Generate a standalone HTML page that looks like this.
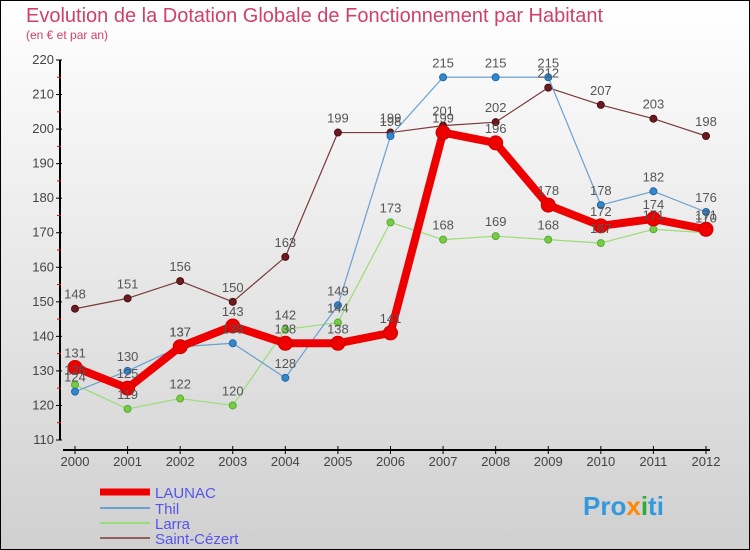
<!DOCTYPE html>
<html><head><meta charset="utf-8"><style>
body{margin:0;}
svg{display:block;font-family:"Liberation Sans",sans-serif;}
</style></head><body>
<svg width="750" height="550" viewBox="0 0 750 550" id="c">
<defs><linearGradient id="bg" x1="0" y1="0" x2="0" y2="1"><stop offset="0" stop-color="#ffffff"/><stop offset="1" stop-color="#d0d0d0"/></linearGradient></defs>
<rect x="0.5" y="0.5" width="749" height="549" fill="url(#bg)" stroke="#000"/>
<text x="26" y="22" font-size="20" fill="#d0406a">Evolution de la Dotation Globale de Fonctionnement par Habitant</text>
<text x="26" y="39" font-size="12" fill="#d0406a">(en € et par an)</text>
<g id="axes"></g><g id="series"></g><g id="labels"></g>
<g>
<line x1="100" y1="492" x2="150" y2="492" stroke="#ee0000" stroke-width="7"/>
<text x="155" y="498" font-size="15" fill="#5555ee">LAUNAC</text>
<line x1="100" y1="508" x2="150" y2="508" stroke="#6aa0d0" stroke-width="2"/>
<text x="155" y="514" font-size="15" fill="#5555ee">Thil</text>
<line x1="100" y1="523" x2="150" y2="523" stroke="#99dd77" stroke-width="2"/>
<text x="155" y="529" font-size="15" fill="#5555ee">Larra</text>
<line x1="100" y1="538" x2="150" y2="538" stroke="#906060" stroke-width="2"/>
<text x="155" y="544" font-size="15" fill="#5555ee">Saint-Cézert</text>
</g>
<text x="583" y="515" font-size="26" font-weight="bold" fill="#3399dd">Pro<tspan fill="#ff8800">x</tspan><tspan fill="#33aa33">i</tspan>ti</text>
</svg>
<script>
const years=[2000,2001,2002,2003,2004,2005,2006,2007,2008,2009,2010,2011,2012];
const launac=[131,125,137,143,138,138,141,199,196,178,172,174,171];
const thil=[124,130,137,138,128,149,198,215,215,215,178,182,176];
const larra=[126,119,122,120,142,144,173,168,169,168,167,171,170];
const cezert=[148,151,156,150,163,199,199,201,202,212,207,203,198];
const yTicks=[110,120,130,140,150,160,170,180,190,200,210,220];
const NS="http://www.w3.org/2000/svg";
const X=i=>75+i*(706-75)/12;
const Y=v=>440-(v-110)*(380/110);
function mk(t,a,p){const e=document.createElementNS(NS,t);for(const k in a)e.setAttribute(k,a[k]);p.appendChild(e);return e;}
const ax=document.getElementById('axes');
let l=mk('line',{x1:60,y1:60,x2:60,y2:440,stroke:'#000','stroke-width':2},ax);


l=mk('line',{x1:63,y1:450,x2:710,y2:450,stroke:'#000','stroke-width':2},ax);


yTicks.forEach((v,i)=>{
  mk('line',{x1:56,y1:Y(v),x2:62,y2:Y(v),stroke:'#000'},ax);
  if(i<yTicks.length-1) mk('line',{x1:57,y1:Y(v+5),x2:61,y2:Y(v+5),stroke:'#e00'},ax);
  const t=mk('text',{x:54,y:Y(v)+4,'font-size':13,'text-anchor':'end',fill:'#444'},ax);t.textContent=v;
  
  
});
years.forEach((y,i)=>{
  mk('line',{x1:X(i),y1:446,x2:X(i),y2:454,stroke:'#000'},ax);
  const t=mk('text',{x:X(i),y:466,'font-size':13,'text-anchor':'middle',fill:'#444'},ax);t.textContent=y;
  
  
});
const sg=document.getElementById('series'),lg=document.getElementById('labels');
function draw(data,name,col,w,r,dot,stroke){
  const p=mk('polyline',{points:data.map((v,i)=>X(i)+','+Y(v)).join(' '),fill:'none',stroke:col,'stroke-width':w,'stroke-linejoin':'round'},sg);
  
  
  data.forEach((v,i)=>{
    const c=mk('circle',{cx:X(i),cy:Y(v),r:r,fill:dot,stroke:stroke,'stroke-width':1},sg);
    
    
    const t=mk('text',{x:X(i),y:Y(v)-10,'font-size':13,'text-anchor':'middle',fill:'#555'},lg);t.textContent=v;
    
    
  });
}
draw(cezert,'saint-cezert','#7a3a3a',1.2,3.5,'#6a1a20','#4a1010');
draw(larra,'larra','#99dd77',1.2,3.5,'#77cc44','#55aa33');
draw(thil,'thil','#6aa0d0',1.2,3.5,'#3388cc','#2266aa');
draw(launac,'launac','#ee0000',8,7,'#ee0000','#cc0000');
</script>
</body></html>
